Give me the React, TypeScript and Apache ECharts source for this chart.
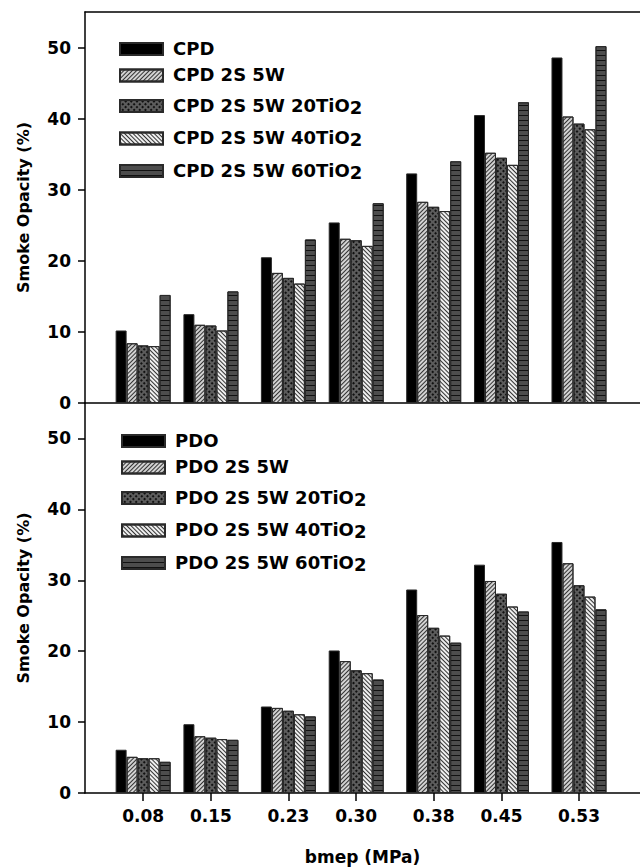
import React, { useEffect, useRef } from 'react';
import * as echarts from 'echarts';

// ---- data ----
const bmep = [0.08, 0.15, 0.23, 0.30, 0.38, 0.45, 0.53];
const yTicks = [0, 10, 20, 30, 40, 50];

const cpdNames = ['CPD', 'CPD 2S 5W', 'CPD 2S 5W 20TiO2', 'CPD 2S 5W 40TiO2', 'CPD 2S 5W 60TiO2'];
const cpd = [10.2, 12.5, 20.5, 25.4, 32.3, 40.5, 48.6];
const cpd2s5w = [8.4, 11.0, 18.3, 23.1, 28.3, 35.2, 40.3];
const cpd20 = [8.1, 10.9, 17.6, 22.9, 27.6, 34.5, 39.3];
const cpd40 = [8.0, 10.2, 16.8, 22.1, 27.0, 33.5, 38.5];
const cpd60 = [15.2, 15.7, 23.0, 28.1, 34.0, 42.3, 50.2];

const pdoNames = ['PDO', 'PDO 2S 5W', 'PDO 2S 5W 20TiO2', 'PDO 2S 5W 40TiO2', 'PDO 2S 5W 60TiO2'];
const pdo = [6.1, 9.7, 12.2, 20.1, 28.7, 32.2, 35.4];
const pdo2s5w = [5.1, 8.0, 12.0, 18.6, 25.1, 29.9, 32.4];
const pdo20 = [4.9, 7.8, 11.6, 17.3, 23.3, 28.1, 29.3];
const pdo40 = [4.9, 7.6, 11.1, 16.9, 22.2, 26.3, 27.7];
const pdo60 = [4.4, 7.5, 10.8, 16.0, 21.2, 25.6, 25.9];

const cpdSeries = [cpd, cpd2s5w, cpd20, cpd40, cpd60];
const pdoSeries = [pdo, pdo2s5w, pdo20, pdo40, pdo60];

// ---- styles ----
const FONT = 'DejaVu Sans';
const BORDER = '#2a2a2a';
const barStyles: any[] = [
  { color: '#000000' },
  {
    color: '#d2d2d2',
    decal: { symbol: 'rect', symbolSize: 1, dashArrayX: [1, 0], dashArrayY: [1, 2], rotation: -Math.PI / 4, color: '#333333' },
  },
  {
    color: '#5c5c5c',
    decal: { symbol: 'rect', symbolSize: 1, dashArrayX: [2, 2], dashArrayY: [2, 2], rotation: Math.PI / 4, color: '#111111' },
  },
  {
    color: '#eeeeee',
    decal: { symbol: 'rect', symbolSize: 1, dashArrayX: [1, 0], dashArrayY: [1, 2], rotation: Math.PI / 4, color: '#333333' },
  },
  {
    color: '#4d4d4d',
    decal: { symbol: 'rect', symbolSize: 1, dashArrayX: [1, 0], dashArrayY: [1, 4], rotation: 0, color: '#111111' },
  },
];

const axisLineStyle = { color: '#000', width: 1.5 };
const tickLabelStyle = { fontFamily: FONT, fontWeight: 'bold' as const, fontSize: 17, color: '#000' };

function makeSeries(names: string[], values: number[][], xi: number, yi: number) {
  return names.map((name, i) => ({
    type: 'bar',
    name,
    xAxisIndex: xi,
    yAxisIndex: yi,
    barWidth: 11,
    barGap: '0%',
    data: bmep.map((x, k) => [x, values[i][k]]),
    itemStyle: { ...barStyles[i], borderColor: BORDER, borderWidth: 1 },
  }));
}

function legendFormatter(n: string) {
  return n.endsWith('TiO2') ? `{n|${n.slice(0, -1)}}{s|2}` : `{n|${n}}`;
}

const legendRich = {
  n: { fontFamily: FONT, fontWeight: 'bold', fontSize: 18, color: '#000', lineHeight: 20, verticalAlign: 'top', padding: [0, 0, 0, 5] },
  s: { fontFamily: FONT, fontWeight: 'bold', fontSize: 18, color: '#000', lineHeight: 20, verticalAlign: 'bottom', padding: [6, 0, 0, 0] },
};

function makeLegend(names: string[], top: number, left: number) {
  return {
    data: names,
    orient: 'vertical',
    left,
    top,
    itemWidth: 43,
    itemHeight: 12,
    itemGap: 8.5,
    icon: 'rect',
    selectedMode: false,
    formatter: legendFormatter,
    textStyle: { rich: legendRich },
  };
}

function yAxis(gridIndex: number) {
  return {
    gridIndex,
    type: 'value',
    min: 0,
    max: 55,
    interval: 10,
    name: 'Smoke Opacity (%)',
    nameLocation: 'middle',
    nameGap: 54,
    nameTextStyle: { fontFamily: FONT, fontWeight: 'bold', fontSize: 16, color: '#000' },
    axisLine: { show: true, lineStyle: axisLineStyle },
    axisTick: { show: true, length: 7, customValues: yTicks, lineStyle: axisLineStyle },
    axisLabel: { ...tickLabelStyle, margin: 14, customValues: yTicks },
    splitLine: { show: false },
  };
}

const XMIN = 0.02;
const XMAX = 0.593;

export default function App() {
  const ref = useRef<HTMLDivElement>(null);
  useEffect(() => {
    if (!ref.current) return;
    const chart = echarts.init(ref.current, null, { renderer: 'svg' });
    chart.setOption({
      animation: false,
      backgroundColor: '#ffffff',
      grid: [
        { left: 85, top: 12, width: 555, height: 391 },
        { left: 85, top: 403, width: 555, height: 390 },
      ],
      legend: [makeLegend(cpdNames, 34, 114), makeLegend(pdoNames, 426, 116)],
      xAxis: [
        {
          gridIndex: 0, type: 'value', min: XMIN, max: XMAX, position: 'bottom',
          axisLine: { show: true, onZero: false, lineStyle: axisLineStyle },
          axisTick: { show: false }, axisLabel: { show: false }, splitLine: { show: false },
        },
        {
          gridIndex: 0, type: 'value', min: XMIN, max: XMAX, position: 'top',
          axisLine: { show: true, onZero: false, lineStyle: axisLineStyle },
          axisTick: { show: false }, axisLabel: { show: false }, splitLine: { show: false },
        },
        {
          gridIndex: 1, type: 'value', min: XMIN, max: XMAX, position: 'bottom',
          name: 'bmep (MPa)', nameLocation: 'middle', nameGap: 55,
          nameTextStyle: { fontFamily: FONT, fontWeight: 'bold', fontSize: 17, color: '#000' },
          axisLine: { show: true, onZero: false, lineStyle: axisLineStyle },
          axisTick: { show: true, length: 8, customValues: bmep, lineStyle: axisLineStyle },
          axisLabel: { ...tickLabelStyle, margin: 14, customValues: bmep, formatter: (v: number) => v.toFixed(2) },
          splitLine: { show: false },
        },
      ],
      yAxis: [yAxis(0), yAxis(1)],
      series: [
        ...makeSeries(cpdNames, cpdSeries, 0, 0),
        ...makeSeries(pdoNames, pdoSeries, 2, 1),
      ],
    });
    return () => chart.dispose();
  }, []);
  return (
    <div
      ref={ref}
      style={{ position: 'absolute', left: 0, top: 0, width: 640, height: 868, background: '#fff' }}
    />
  );
}
